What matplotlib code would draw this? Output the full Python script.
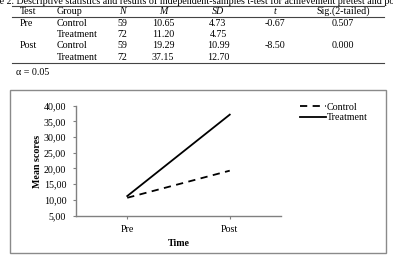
import matplotlib
matplotlib.use("Agg")
import matplotlib.pyplot as plt
from matplotlib.lines import Line2D
from matplotlib.patches import Rectangle

plt.rcParams['font.family'] = ['Liberation Serif', 'DejaVu Serif']

# ---- data ----
times = ["Pre", "Post"]
control_means = [10.65, 19.29]
treatment_means = [11.20, 37.15]
yticks = [5, 10, 15, 20, 25, 30, 35, 40]

table_header = ["Test", "Group", "N", "M", "SD", "t", "Sig.(2-tailed)"]
table_rows = [
    ["Pre", "Control", "59", "10.65", "4.73", "-0.67", "0.507"],
    ["", "Treatment", "72", "11.20", "4.75", "", ""],
    ["Post", "Control", "59", "19.29", "10.99", "-8.50", "0.000"],
    ["", "Treatment", "72", "37.15", "12.70", "", ""],
]
title = ("Table 2. Descriptive statistics and results of independent-samples "
         "t-test for achievement pretest and posttest")
note = "\u03b1 = 0.05"

W, H = 393, 260
fig = plt.figure(figsize=(W / 100, H / 100), dpi=100)
fig.patch.set_facecolor("white")
FS = 7.2


def fx(x):
    return x / W


def fy(y):
    return 1 - y / H


def txt(x, y, s, ha="left", style="normal", weight="normal", size=FS, va="center"):
    return fig.text(fx(x), fy(y), s, ha=ha, va=va, fontstyle=style,
                    fontweight=weight, fontsize=size, color="black")


def hline(x1, x2, y, color="#444444", lw=0.8):
    fig.add_artist(Line2D([fx(x1), fx(x2)], [fy(y), fy(y)],
                          transform=fig.transFigure, color=color, lw=lw))


# ---- table ----
txt(-18, 4.0, title, va="baseline")
hline(12, 384, 6.3)
hline(12, 384, 16.8)
hline(12, 384, 62.8)

col_x = [28, 57, 122, 163, 218, 275, 343]
col_ha = ["center", "left", "center", "center", "center", "center", "center"]
head_style = ["normal", "normal", "italic", "italic", "italic", "italic", "normal"]
for x, ha, st, s in zip(col_x, col_ha, head_style, table_header):
    txt(x, 11.3, s, ha=ha, style=st)

row_y = [23, 34.3, 45.7, 57.2]
for y, row in zip(row_y, table_rows):
    for j, (x, ha, s) in enumerate(zip(col_x, col_ha, row)):
        if j == 0:
            txt(20, y, s, ha="left")
        else:
            txt(x, y, s, ha=ha)
txt(16, 72.5, note)

# ---- chart frame ----
fig.add_artist(Rectangle((fx(10), fy(253)), fx(386) - fx(10), fy(90) - fy(253),
                         transform=fig.transFigure, fill=False,
                         edgecolor="#8a8a8a", lw=1.0))

# ---- chart ----
ax_l, ax_r, ax_t, ax_b = 76, 281, 105.7, 215.5
ax = fig.add_axes([fx(ax_l), fy(ax_b), fx(ax_r) - fx(ax_l), (ax_b - ax_t) / H])
xs = list(range(len(times)))
l1, = ax.plot(xs, control_means, color="black", lw=1.3, dashes=(4, 3),
              label="Control")
l2, = ax.plot(xs, treatment_means, color="black", lw=1.3, label="Treatment")
ax.set_xlim(-0.5, len(times) - 0.5)
ax.set_ylim(5, 40)
ax.set_yticks(yticks)
ax.set_yticklabels([f"{v:.2f}".replace(".", ",") for v in yticks])
ax.set_xticks(xs)
ax.set_xticklabels(times)
for sp in ["top", "right"]:
    ax.spines[sp].set_visible(False)
for sp in ["left", "bottom"]:
    ax.spines[sp].set_color("#808080")
    ax.spines[sp].set_linewidth(1.0)
ax.tick_params(axis="both", labelsize=FS, colors="#808080", labelcolor="black",
               length=2, width=0.8)
ax.tick_params(axis="y", pad=5)
ax.tick_params(axis="x", pad=5)
ax.set_facecolor("white")

t = txt(37, 161, "Mean scores", ha="center", weight="bold")
t.set_rotation(90)
txt(178.5, 243, "Time", ha="center", weight="bold")

fig.legend(handles=[l1, l2], loc="upper left",
           bbox_to_anchor=(fx(300), fy(103)), frameon=False, fontsize=FS,
           handlelength=2.6, handletextpad=0.1, labelspacing=0.15,
           borderpad=0, borderaxespad=0)

fig.savefig("out.png", dpi=100, facecolor="white")
